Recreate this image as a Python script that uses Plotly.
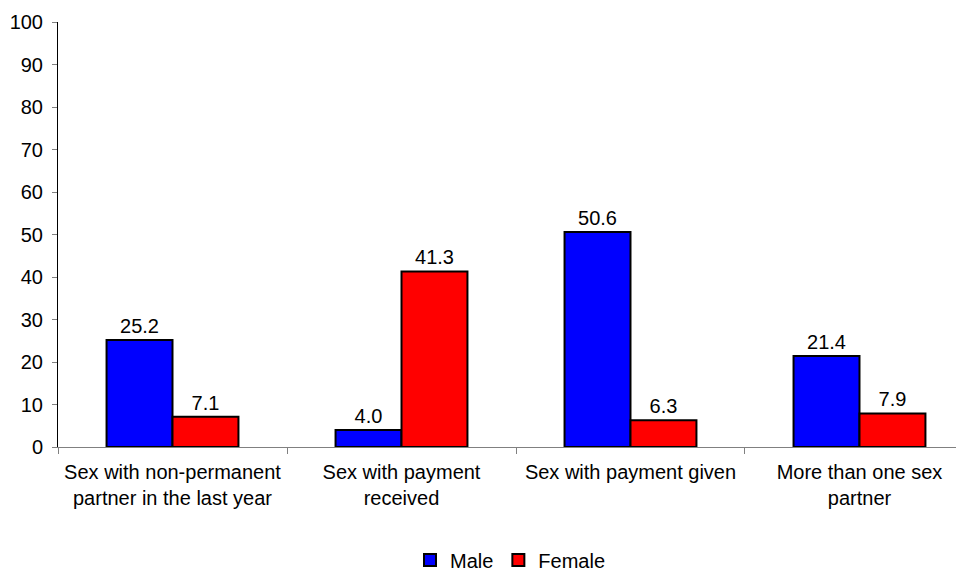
import plotly.graph_objects as go

categories = ["Sex with non-permanent<br>partner in the last year",
              "Sex with payment<br>received",
              "Sex with payment given",
              "More than one sex<br>partner"]
male = [25.2, 4.0, 50.6, 21.4]
female = [7.1, 41.3, 6.3, 7.9]
y_ticks = list(range(0, 101, 10))

font = dict(family="Liberation Sans, Arial, sans-serif", size=20, color="black")

fig = go.Figure()
fig.add_trace(go.Bar(name="Male", x=categories, y=male,
                     marker=dict(color="#0000FF", line=dict(color="black", width=2)),
                     text=[f"{v:.1f}" for v in male], textposition="outside",
                     textfont=font, cliponaxis=False))
fig.add_trace(go.Bar(name="Female", x=categories, y=female,
                     marker=dict(color="#FF0000", line=dict(color="black", width=2)),
                     text=[f"{v:.1f}" for v in female], textposition="outside",
                     textfont=font, cliponaxis=False))

# page body has an 8px default margin; figure is sized/offset to compensate
fig.update_layout(
    width=956, height=563,
    margin=dict(l=50, r=1, t=14, b=124, autoexpand=False),
    plot_bgcolor="white", paper_bgcolor="white",
    font=font,
    barmode="group", bargap=0.424, bargroupgap=0,
    showlegend=True,
    legend=dict(orientation="h", x=0.5, xanchor="center", y=-0.266, yanchor="middle",
                font=font, itemwidth=30, traceorder="normal"),
    xaxis=dict(range=[-0.5, 3.452], showline=True, linecolor="#808080", linewidth=1,
               ticks="outside", tickson="boundaries", ticklen=6, tickcolor="#808080",
               showgrid=False, tickfont=font, automargin=False, ticklabelstandoff=7),
    yaxis=dict(range=[0, 100], tickvals=y_ticks, showline=True, linecolor="black", linewidth=1,
               ticks="outside", ticklen=5, tickcolor="#808080", showgrid=False,
               zeroline=False, tickfont=font, automargin=False, ticklabelstandoff=5),
)
fig.update_traces(textangle=0)
fig.write_html("out.html")
